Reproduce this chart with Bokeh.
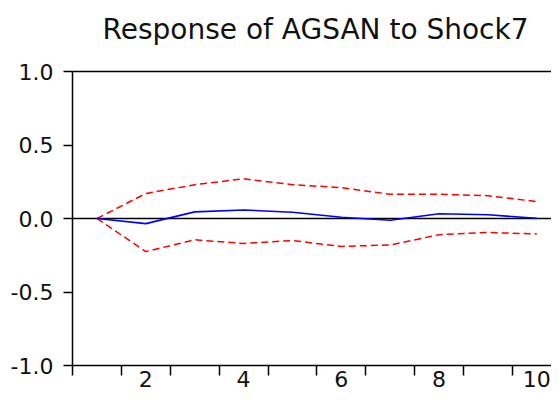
from bokeh.plotting import figure
from bokeh.models import Range1d, FixedTicker, PrintfTickFormatter, LinearAxis, Span
from bokeh.embed import file_html
from bokeh.resources import INLINE

# Data
periods = [1, 2, 3, 4, 5, 6, 7, 8, 9, 10]
response = [0.0, -0.035, 0.045, 0.058, 0.043, 0.008, -0.012, 0.032, 0.025, 0.002]
upper_band = [0.0, 0.17, 0.23, 0.27, 0.23, 0.21, 0.165, 0.165, 0.155, 0.115]
lower_band = [0.0, -0.225, -0.145, -0.17, -0.15, -0.19, -0.18, -0.11, -0.095, -0.105]
x_labels = [2, 4, 6, 8, 10]
y_ticks = [-1.0, -0.5, 0.0, 0.5, 1.0]
title_text = "Response of AGSAN to Shock7"

FONT = "DejaVu Sans"

p = figure(width=551, height=395, output_backend="svg", toolbar_location=None,
           x_range=Range1d(0.5, 10.3), y_range=Range1d(-1.0, 1.0),
           min_border_left=72, min_border_right=0, min_border_top=71, min_border_bottom=30,
           background_fill_color="white", border_fill_color="white")
p.outline_line_color = None
p.grid.visible = False

p.title.text = title_text
p.title.align = "left"
p.title.offset = 30
p.title.text_font = FONT
p.title.text_font_size = "28px"
p.title.text_font_style = "normal"
p.title.text_color = "#111111"
p.title.standoff = 16

# x axis: boundary ticks between periods, labels on even periods
xax = p.xaxis[0]
boundaries = [v - 0.5 for v in periods] + [periods[-1] + 0.5]
xax.ticker = FixedTicker(ticks=x_labels, minor_ticks=boundaries)
xax.major_tick_line_color = None
xax.major_tick_out = 10
xax.major_tick_in = 0
xax.minor_tick_out = 10
xax.minor_tick_in = 0
xax.minor_tick_line_color = "black"
xax.minor_tick_line_width = 1.5
xax.axis_line_color = "black"
xax.axis_line_width = 1.5
xax.major_label_text_font = FONT
xax.major_label_text_font_size = "22px"
xax.major_label_text_color = "#111111"
xax.major_label_standoff = -5

yax = p.yaxis[0]
yax.ticker = FixedTicker(ticks=y_ticks, minor_ticks=[])
yax.formatter = PrintfTickFormatter(format="%.1f")
yax.major_tick_out = 9
yax.major_tick_in = 0
yax.major_tick_line_color = "black"
yax.major_tick_line_width = 1.5
yax.axis_line_color = "black"
yax.axis_line_width = 1.5
yax.major_label_text_font = FONT
yax.major_label_text_font_size = "22px"
yax.major_label_text_color = "#111111"
yax.major_label_standoff = 10

# top border line; one invisible, unlabeled tick whose extent spaces the title off the frame
top = LinearAxis(ticker=FixedTicker(ticks=[periods[0]], minor_ticks=[]),
                 axis_line_color="black", axis_line_width=1.5,
                 major_tick_out=18, major_tick_in=0, major_tick_line_color=None,
                 major_label_standoff=0, major_label_overrides={periods[0]: ""},
                 major_label_text_font_size="0px", minor_tick_out=0, minor_tick_in=0)
p.add_layout(top, "above")

zero = Span(location=0.0, dimension="width", line_color="black", line_width=1.5, level="underlay")
p.add_layout(zero)

p.line(periods, upper_band, line_color="#ff0000", line_width=1.5, line_dash="7 4")
p.line(periods, lower_band, line_color="#ff0000", line_width=1.5, line_dash="7 4")
p.line(periods, response, line_color="#0000ff", line_width=1.6)

open("out.html", "w").write(file_html(p, INLINE))
